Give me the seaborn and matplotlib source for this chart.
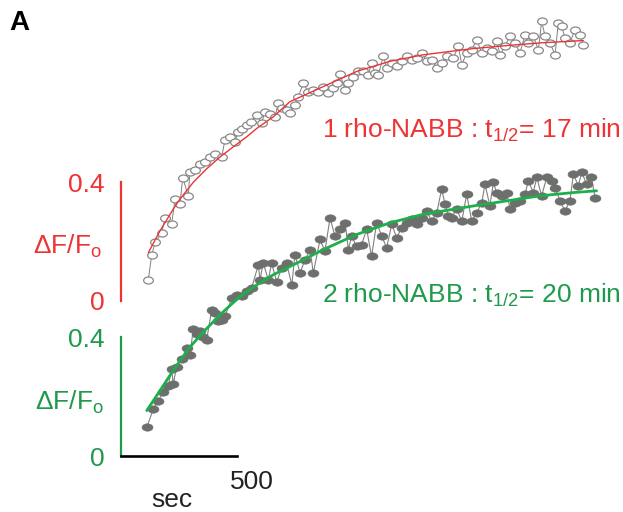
import numpy as np
import pandas as pd
import matplotlib
matplotlib.use("Agg")
import matplotlib.pyplot as plt
import matplotlib.transforms as mtransforms
from matplotlib.path import Path
import seaborn as sns

# ---------------- data (seconds, dF/F0) ----------------
red_t = [118, 132, 147, 175, 190, 218, 233, 254, 266, 290, 297, 319, 341, 362, 384, 405,
         434, 448, 470, 491, 504, 520, 542, 560, 585, 606, 620, 642, 664, 677, 694, 714,
         728, 750, 764, 786, 807, 829, 850, 872, 894, 915, 930, 944, 966, 980, 1001, 1023,
         1044, 1066, 1080, 1095, 1109, 1131, 1145, 1167, 1188, 1210, 1231, 1253, 1274, 1296,
         1318, 1339, 1361, 1382, 1404, 1432, 1454, 1469, 1490, 1512, 1533, 1555, 1576, 1598,
         1619, 1634, 1655, 1677, 1698, 1720, 1741, 1756, 1777, 1799, 1813, 1828, 1849, 1871,
         1885, 1899, 1914, 1935, 1957, 1978, 1993]
red_v = [0.072, 0.154, 0.197, 0.228, 0.281, 0.259, 0.342, 0.326, 0.414, 0.355, 0.434, 0.440,
         0.462, 0.468, 0.485, 0.495, 0.485, 0.542, 0.553, 0.536, 0.569, 0.580, 0.592, 0.603,
         0.627, 0.598, 0.637, 0.630, 0.620, 0.665, 0.651, 0.644, 0.634, 0.661, 0.688, 0.733,
         0.705, 0.711, 0.705, 0.722, 0.699, 0.716, 0.733, 0.764, 0.711, 0.733, 0.753, 0.773,
         0.775, 0.762, 0.801, 0.767, 0.762, 0.824, 0.784, 0.801, 0.790, 0.807, 0.824, 0.813,
         0.818, 0.835, 0.807, 0.813, 0.784, 0.801, 0.824, 0.818, 0.858, 0.796, 0.835, 0.846,
         0.880, 0.835, 0.852, 0.841, 0.875, 0.829, 0.858, 0.892, 0.869, 0.835, 0.897, 0.869,
         0.892, 0.846, 0.942, 0.892, 0.869, 0.829, 0.937, 0.925, 0.886, 0.869, 0.914, 0.897,
         0.863]
red_fit_t = [118, 168, 225, 254, 312, 369, 427, 484, 542, 585, 656, 728, 872, 1016, 1159,
             1303, 1519, 1663, 1806, 1993]
red_fit_v = [0.163, 0.236, 0.309, 0.343, 0.400, 0.445, 0.485, 0.519, 0.553, 0.581, 0.620,
             0.671, 0.722, 0.773, 0.807, 0.829, 0.850, 0.860, 0.869, 0.877]

green_t = [111, 139, 161, 182, 204, 218, 225, 240, 262, 283, 297, 312, 326, 340, 355, 369,
           391, 405, 420, 434, 448, 477, 499, 520, 542, 563, 592, 599, 613, 635, 649, 671,
           693, 714, 736, 750, 772, 793, 815, 829, 858, 879, 901, 922, 944, 966, 980, 994,
           1016, 1037, 1059, 1080, 1102, 1124, 1145, 1167, 1188, 1210, 1231, 1253, 1274, 1296,
           1318, 1339, 1361, 1382, 1397, 1411, 1425, 1447, 1469, 1490, 1512, 1533, 1555, 1569,
           1590, 1605, 1619, 1641, 1663, 1677, 1698, 1720, 1741, 1756, 1777, 1792, 1813, 1835,
           1856, 1871, 1892, 1914, 1935, 1950, 1971, 1986, 2007, 2028, 2043]
green_v = [0.096, 0.158, 0.186, 0.215, 0.237, 0.294, 0.243, 0.300, 0.328, 0.362, 0.340, 0.429,
           0.410, 0.420, 0.401, 0.390, 0.492, 0.480, 0.455, 0.458, 0.470, 0.531, 0.542, 0.540,
           0.554, 0.565, 0.644, 0.593, 0.650, 0.593, 0.650, 0.587, 0.633, 0.650, 0.576, 0.678,
           0.616, 0.661, 0.695, 0.616, 0.729, 0.689, 0.802, 0.740, 0.763, 0.785, 0.695, 0.740,
           0.706, 0.712, 0.763, 0.672, 0.785, 0.740, 0.701, 0.780, 0.735, 0.768, 0.785, 0.797,
           0.780, 0.802, 0.825, 0.791, 0.819, 0.898, 0.847, 0.808, 0.802, 0.831, 0.791, 0.881,
           0.791, 0.819, 0.853, 0.915, 0.842, 0.921, 0.887, 0.876, 0.887, 0.831, 0.853, 0.859,
           0.881, 0.926, 0.887, 0.938, 0.876, 0.938, 0.926, 0.904, 0.859, 0.825, 0.859, 0.949,
           0.910, 0.955, 0.915, 0.938, 0.870]
green_fit_t = [111, 168, 225, 297, 369, 441, 513, 585, 656, 772, 872, 1016, 1159, 1303, 1519,
               1663, 1806, 1950, 2050]
green_fit_v = [0.153, 0.220, 0.288, 0.367, 0.429, 0.486, 0.537, 0.576, 0.610, 0.655, 0.695,
               0.746, 0.785, 0.814, 0.842, 0.859, 0.876, 0.887, 0.893]

y_ticks = [0, 0.4]
y_tick_labels = ["0", "0.4"]
x_ticks = [500]
x_tick_labels = ["500"]
red_label = "1 rho-NABB : t$_{\\mathrm{1/2}}$= 17 min"
green_label = "2 rho-NABB : t$_{\\mathrm{1/2}}$= 20 min"
y_label = "$\\Delta$F/F$_{\\mathrm{o}}$"

# ---------------- style ----------------
sns.set_theme(style="white")
plt.rcParams["font.family"] = ["Liberation Sans", "DejaVu Sans"]
plt.rcParams["mathtext.fontset"] = "custom"
plt.rcParams["mathtext.rm"] = "Liberation Sans"
plt.rcParams["mathtext.it"] = "Liberation Sans:italic"
plt.rcParams["mathtext.bf"] = "Liberation Sans:bold"

RED = "#ee3333"
GREEN = "#1f9a4c"
GREEN_FIT = "#1db04a"
GRAY_LINE = "#808080"
GRAY_DOT = "#6c6f6c"
FS = 19

W, H = 623, 512
fig = plt.figure(figsize=(W / 100, H / 100), dpi=100)

S_PER_PX = 500 / 116.0
PX_PER_UNIT = 297.0
left_px, right_px, top_px, bot_px = 121, 612, 8, 456
red_zero_px = 301
pos = [left_px / W, (H - bot_px) / H, (right_px - left_px) / W, (bot_px - top_px) / H]
xlim = (0, (right_px - left_px) * S_PER_PX)

ax_g = fig.add_axes(pos)
ax_r = fig.add_axes(pos)
for ax in (ax_g, ax_r):
    ax.set_facecolor("none")
    ax.set_xlim(*xlim)
    for s in ("top", "right"):
        ax.spines[s].set_visible(False)
ax_g.set_ylim(0, (bot_px - top_px) / PX_PER_UNIT)
ax_r.set_ylim((red_zero_px - bot_px) / PX_PER_UNIT, (red_zero_px - top_px) / PX_PER_UNIT)

circ = Path.unit_circle()
ell_open = Path(circ.vertices * np.array([1.0, 0.72]), circ.codes)
ell_fill = Path(circ.vertices * np.array([1.0, 0.68]), circ.codes)

# red series (top)
sns.lineplot(x=red_t, y=red_v, ax=ax_r, estimator=None, sort=False, color=GRAY_LINE,
             lw=0.7, marker=ell_open, markersize=7.0, markerfacecolor="white",
             markeredgecolor="#888888", markeredgewidth=0.9)
sns.lineplot(x=red_fit_t, y=red_fit_v, ax=ax_r, estimator=None, sort=False, color=RED, lw=1.0)

# green series (bottom)
sns.lineplot(x=green_t, y=green_v, ax=ax_g, estimator=None, sort=False, color=GRAY_LINE,
             lw=0.8, marker=ell_fill, markersize=8.0, markerfacecolor=GRAY_DOT,
             markeredgecolor=GRAY_DOT, markeredgewidth=0.3)
sns.lineplot(x=green_fit_t, y=green_fit_v, ax=ax_g, estimator=None, sort=False,
             color=GREEN_FIT, lw=2.0)

# axes decorations
ax_r.spines["bottom"].set_visible(False)
ax_r.spines["left"].set_bounds(0, 0.4)
ax_r.spines["left"].set_color(RED)
ax_r.spines["left"].set_linewidth(1.6)
ax_r.set_xticks([])
ax_r.set_yticks(y_ticks)
ax_r.set_yticklabels(y_tick_labels)
ax_r.tick_params(axis="y", length=0, pad=12, labelsize=FS, labelcolor=RED)
ax_r.set_xlabel("")
ax_r.set_ylabel(y_label, rotation=0, ha="right", va="center", color=RED, fontsize=FS)
ax_r.yaxis.set_label_coords((102 - left_px) / (right_px - left_px),
                            (bot_px - 246) / (bot_px - top_px))

ax_g.spines["left"].set_bounds(0, 0.4)
ax_g.spines["left"].set_color(GREEN)
ax_g.spines["left"].set_linewidth(1.6)
ax_g.spines["bottom"].set_bounds(0, 500)
ax_g.spines["bottom"].set_color("black")
ax_g.spines["bottom"].set_linewidth(1.9)
ax_g.set_yticks(y_ticks)
ax_g.set_yticklabels(y_tick_labels)
ax_g.tick_params(axis="y", length=0, pad=12, labelsize=FS, labelcolor=GREEN)
ax_g.set_xticks(x_ticks)
ax_g.set_xticklabels(x_tick_labels)
ax_g.tick_params(axis="x", length=0, pad=10, labelsize=FS, labelcolor="#222222")
off = mtransforms.ScaledTranslation(15 / 100, 0, fig.dpi_scale_trans)
for lab in ax_g.get_xticklabels():
    lab.set_transform(lab.get_transform() + off)
ax_g.set_xlabel("sec", fontsize=FS, color="#222222", va="center")
ax_g.xaxis.set_label_coords((172 - left_px) / (right_px - left_px),
                            -(500 - bot_px) / (bot_px - top_px))
ax_g.set_ylabel(y_label, rotation=0, ha="right", va="center", color=GREEN, fontsize=FS)
ax_g.yaxis.set_label_coords((104 - left_px) / (right_px - left_px),
                            (bot_px - 402) / (bot_px - top_px))

fig.text(621 / W, (H - 138) / H, red_label, color=RED, fontsize=FS, ha="right", va="baseline")
fig.text(621 / W, (H - 303) / H, green_label, color=GREEN, fontsize=FS, ha="right", va="baseline")
fig.text(9 / W, (H - 30) / H, "A", fontsize=20, fontweight="bold", color="black", va="baseline")

fig.savefig("out.png", dpi=100)
